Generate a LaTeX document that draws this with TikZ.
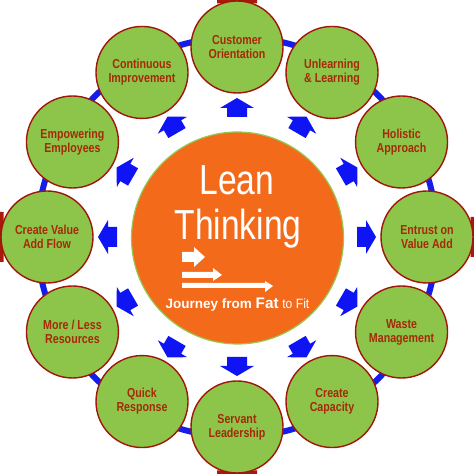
\documentclass[tikz,border=0pt]{standalone}
\usepackage{fontspec}
\setmainfont{Liberation Sans}
\newfontfamily\lblfont[FakeStretch=0.82]{Liberation Sans}
\newfontfamily\bigfont[FakeStretch=0.8]{Liberation Sans}
\newfontfamily\smallfont[FakeStretch=0.9]{Liberation Sans}
\definecolor{bubgreen}{RGB}{141,196,74}
\definecolor{bubedge}{RGB}{160,22,10}
\definecolor{lbltext}{RGB}{165,42,10}
\definecolor{ringblue}{RGB}{20,30,235}
\definecolor{arrblue}{RGB}{15,20,245}
\definecolor{leanorange}{RGB}{243,106,27}
\definecolor{leanedge}{RGB}{150,200,80}
\definecolor{edgered}{RGB}{170,25,10}
\tikzset{
  bub/.style={circle, minimum size=92bp, inner sep=0pt, fill=bubgreen, draw=bubedge, line width=1.4bp,
    text=lbltext, align=center, font=\lblfont\bfseries\fontsize{13bp}{14bp}\selectfont},
  blockarrow/.style={fill=arrblue, draw=none},
  whitearrow/.style={fill=white, draw=none},
  centretext/.style={text=white, inner sep=0pt, anchor=base}
}
\begin{document}
\begin{tikzpicture}[x=1bp,y=1bp]
\useasboundingbox (0,0) rectangle (474,474);
% dark red edges glimpsed at the four cardinal points
\begin{scope}
  \clip (217,470.5) rectangle (257,474)
        (217,0) rectangle (257,3.5)
        (0,212) rectangle (3.5,262)
        (470.5,217) rectangle (474,257);
  \draw[edgered, line width=5bp] (237,237) circle (236.5);
\end{scope}
% blue ring
\draw[ringblue, line width=6bp] (237,237) circle (200);
% circles
\foreach \ang/\nm/\txt in {
  0/c0/{Entrust on\\Value Add},
  30/c1/{Holistic\\Approach},
  60/c2/{Unlearning\\\& Learning},
  90/c3/{Customer\\Orientation},
  120/c4/{Continuous\\Improvement},
  150/c5/{Empowering\\Employees},
  180/c6/{Create Value\\Add Flow},
  210/c7/{More / Less\\Resources},
  240/c8/{Quick\\Response},
  270/c9/{Servant\\Leadership},
  300/c10/{Create\\Capacity},
  330/c11/{Waste\\Management}}{
  \node[bub] (\nm) at ({237+190*cos(\ang)},{237+190*sin(\ang)}) {\txt};
}
% blue block arrows
\foreach \ang in {0,30,...,330}{
  \begin{scope}[shift={(237,237)}, rotate=\ang]
    \fill[blockarrow] (120,-10) -- (129,-10) -- (129,-17) -- (139,0) -- (129,17) -- (129,10) -- (120,10) -- cycle;
  \end{scope}
}
% centre circle
\node[circle, minimum size=212bp, inner sep=0pt, fill=leanorange, draw=leanedge, line width=1.2bp] (lean) at (237.5,236) {};
\node[centretext, font=\bigfont\fontsize{42bp}{42bp}\selectfont] (l1) at (237,279) {Lean};
\node[centretext, font=\bigfont\fontsize{42bp}{42bp}\selectfont] (l2) at (238,234) {Thinking};
% white arrows
\fill[whitearrow] (182,212) -- (194,212) -- (194,207) -- (205,217) -- (194,227) -- (194,222) -- (182,222) -- cycle;
\fill[whitearrow] (182,196) -- (213,196) -- (213,193) -- (222,199) -- (213,206) -- (213,202) -- (182,202) -- cycle;
\fill[whitearrow] (182,186) -- (265,186) -- (265,182) -- (273,188) -- (265,193) -- (265,191) -- (182,191) -- cycle;
\node[centretext] (journey) at (237.5,165) {\bfseries\fontsize{13.5bp}{14bp}\selectfont Journey from {\fontsize{15.3bp}{14bp}\selectfont Fat} \mdseries\smallfont\fontsize{13.5bp}{14bp}\selectfont to Fit};
\end{tikzpicture}
\end{document}
